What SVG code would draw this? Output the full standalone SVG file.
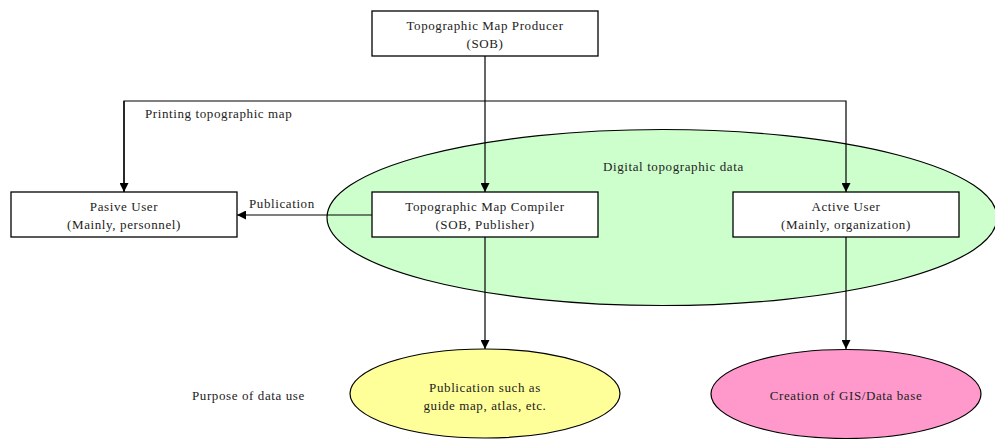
<svg xmlns="http://www.w3.org/2000/svg" width="995" height="439" viewBox="0 0 995 439" font-family="'Liberation Serif', 'Times New Roman', serif">
  <defs>
    <marker id="arrow" viewBox="0 0 10 10" refX="10" refY="5" markerWidth="9" markerHeight="9" markerUnits="userSpaceOnUse" orient="auto">
      <path d="M0,0 L10,5 L0,10 Z" fill="#000"/>
    </marker>
    <style>
      text { font-family: "Liberation Serif", "Times New Roman", serif; font-size: 13px; letter-spacing: 0.6px; fill: #222; }
      .box { fill: #fff; stroke: #000; stroke-width: 1.3; }
      .ell { stroke: #000; stroke-width: 1.2; }
      .c { text-anchor: middle; }
      .link { fill: none; stroke: #000; stroke-width: 1.2; }
    </style>
  </defs>
  <rect width="995" height="439" fill="#fff"/>

  <!-- digital data region -->
  <g id="digital-data">
    <ellipse class="ell" cx="662" cy="217.5" rx="335" ry="88" fill="#ccffcc"/>
    <text x="603" y="171">Digital topographic data</text>
  </g>

  <!-- connectors -->
  <g id="connectors">
    <path class="link" d="M485,56 V192" marker-end="url(#arrow)"/>
    <path class="link" d="M124,192 V101 H846 V192" marker-end="url(#arrow)"/>
    <path class="link" d="M124,101 V192" marker-end="url(#arrow)"/>
    <path class="link" d="M372,215 H237" marker-end="url(#arrow)"/>
    <path class="link" d="M485,237 V349" marker-end="url(#arrow)"/>
    <path class="link" d="M846,237 V349" marker-end="url(#arrow)"/>
    <text x="145" y="118">Printing topographic map</text>
    <text x="249" y="208">Publication</text>
  </g>

  <g id="producer">
    <rect class="box" x="372" y="11" width="226" height="45"/>
    <text class="c" x="485" y="30">Topographic Map Producer</text>
    <text class="c" x="485" y="48">(SOB)</text>
  </g>

  <g id="pasive-user">
    <rect class="box" x="11" y="192" width="226" height="45"/>
    <text class="c" x="124" y="211">Pasive User</text>
    <text class="c" x="124" y="229">(Mainly, personnel)</text>
  </g>

  <g id="compiler">
    <rect class="box" x="372" y="192" width="226" height="45"/>
    <text class="c" x="485" y="211">Topographic Map Compiler</text>
    <text class="c" x="485" y="229">(SOB, Publisher)</text>
  </g>

  <g id="active-user">
    <rect class="box" x="733" y="192" width="226" height="45"/>
    <text class="c" x="846" y="211">Active User</text>
    <text class="c" x="846" y="229">(Mainly, organization)</text>
  </g>

  <text x="192" y="400">Purpose of data use</text>

  <g id="publication-use">
    <ellipse class="ell" cx="485" cy="393.5" rx="135" ry="44.5" fill="#ffff99"/>
    <text class="c" x="485" y="392">Publication such as</text>
    <text class="c" x="485" y="410">guide map, atlas, etc.</text>
  </g>

  <g id="gis-use">
    <ellipse class="ell" cx="846" cy="394" rx="135" ry="44.5" fill="#ff99cc"/>
    <text class="c" x="846" y="400">Creation of GIS/Data base</text>
  </g>
</svg>
